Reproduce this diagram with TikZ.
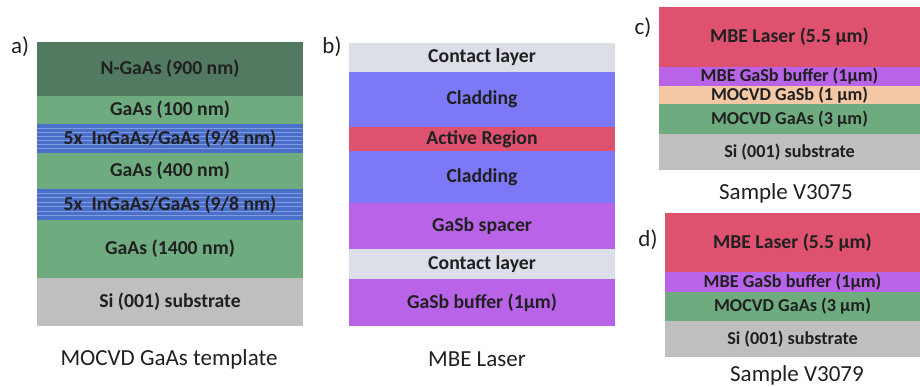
\documentclass[tikz,border=0pt]{standalone}
\usepackage{fontspec}
\setmainfont{Carlito}
\definecolor{ngaas}{HTML}{527A60}
\definecolor{gaas}{HTML}{6EAC80}
\definecolor{ingaas}{HTML}{4B6EC8}
\definecolor{stripe}{HTML}{7E9CE0}
\definecolor{sisub}{HTML}{BFBFBF}
\definecolor{contact}{HTML}{DCDEE8}
\definecolor{clad}{HTML}{7D78F5}
\definecolor{active}{HTML}{DE5270}
\definecolor{gasb}{HTML}{B964E8}
\definecolor{peach}{HTML}{F5C8A5}
\definecolor{txt}{HTML}{202020}
\tikzset{
  layertext/.style={inner sep=0pt, text=txt, font=\bfseries\fontsize{19.7}{21}\selectfont},
  smalltext/.style={layertext, font=\bfseries\fontsize{18.2}{20}\selectfont},
  captext/.style={inner sep=0pt, text=txt, font=\fontsize{23}{26}\selectfont},
  stripeline/.style={draw=stripe, line width=1pt},
}
% name, x1, y1, x2, y2, colour, text  (optional style)
\newcommand\lay[8][layertext]{%
  \fill[#7] (#3,#4) rectangle (#5,#6);
  \node[#1] (#2) at ({(#3+#5)/2},{(#4+#6)/2}) {#8};}
\newcommand\striped[6]{%
  \fill[ingaas] (#2,#3) rectangle (#4,#5);
  \foreach \k in {1,...,6}{\draw[stripeline] (#2,{#3+\k*(#5-#3)/7}) -- (#4,{#3+\k*(#5-#3)/7});}
  \node[layertext] (#1) at ({(#2+#4)/2},{(#3+#5)/2}) {#6};}
\begin{document}
\begin{tikzpicture}[x=1pt,y=-1pt]
\useasboundingbox (0,0) rectangle (920,387);
\fill[white] (0,0) rectangle (920,387);
% panel a
\lay{a1}{37}{42}{303}{96}{ngaas}{N-GaAs (900 nm)}
\lay{a2}{37}{96}{303}{124}{gaas}{GaAs (100 nm)}
\striped{a3}{37}{124}{303}{153}{5x\ \ InGaAs/GaAs (9/8 nm)}
\lay{a4}{37}{153}{303}{189}{gaas}{GaAs (400 nm)}
\striped{a5}{37}{189}{303}{220}{5x\ \ InGaAs/GaAs (9/8 nm)}
\lay{a6}{37}{220}{303}{278}{gaas}{GaAs (1400 nm)}
\lay{a7}{37}{278}{303}{326}{sisub}{Si (001) substrate}
\node[captext] (la) at (20,47) {a)};
\node[captext] (capa) at (169,359) {MOCVD GaAs template};
% panel b
\lay{b1}{349}{43}{615}{72}{contact}{Contact layer}
\lay{b2}{349}{72}{615}{127}{clad}{Cladding}
\lay{b3}{349}{127}{615}{151}{active}{Active Region}
\lay{b4}{349}{151}{615}{203}{clad}{Cladding}
\lay{b5}{349}{203}{615}{249}{gasb}{GaSb spacer}
\lay{b6}{349}{249}{615}{279}{contact}{Contact layer}
\lay{b7}{349}{279}{615}{326}{gasb}{GaSb buffer (1µm)}
\node[captext] (lb) at (332,47) {b)};
\node[captext] (capb) at (477,359) {MBE Laser};
% panel c
\lay{c1}{659}{7}{920}{67}{active}{MBE Laser (5.5 µm)}
\lay[smalltext]{c2}{659}{67}{920}{86}{gasb}{MBE GaSb buffer (1µm)}
\lay[smalltext]{c3}{659}{86}{920}{104}{peach}{MOCVD GaSb (1 µm)}
\lay[smalltext]{c4}{659}{104}{920}{134}{gaas}{MOCVD GaAs (3 µm)}
\lay[smalltext]{c5}{659}{134}{920}{170}{sisub}{Si (001) substrate}
\node[captext] (lc) at (643,28) {c)};
\node[captext] (capc) at (786,193) {Sample V3075};
% panel d
\lay{d1}{665}{213}{920}{272}{active}{MBE Laser (5.5 µm)}
\lay[smalltext]{d2}{665}{272}{920}{292}{gasb}{MBE GaSb buffer (1µm)}
\lay[smalltext]{d3}{665}{292}{920}{321}{gaas}{MOCVD GaAs (3 µm)}
\lay[smalltext]{d4}{665}{321}{920}{357}{sisub}{Si (001) substrate}
\node[captext] (ld) at (648,240) {d)};
\node[captext] (capd) at (797,375) {Sample V3079};
\end{tikzpicture}
\end{document}
